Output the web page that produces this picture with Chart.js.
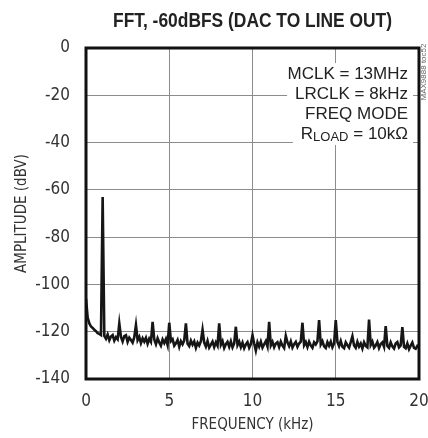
<!DOCTYPE html>
<html>
<head>
<meta charset="utf-8">
<script src="https://cdn.jsdelivr.net/npm/chart.js@4.4.1/dist/chart.umd.min.js"></script>
<style>
  html, body { margin: 0; padding: 0; background: #fff; }
  #wrap { width: 428px; height: 438px; }
</style>
</head>
<body>
<div id="wrap"><canvas id="fft" width="428" height="438"></canvas></div>
<script>
// FFT of -60dBFS tone, DAC to line out (MAX9888 toc52)

const titleText = 'FFT, -60dBFS (DAC TO LINE OUT)';
const xTitle = 'FREQUENCY (kHz)';
const yTitle = 'AMPLITUDE (dBV)';
const notes = ['MCLK = 13MHz', 'LRCLK = 8kHz', 'FREQ MODE'];
const xTicks = [0, 5, 10, 15, 20];
const yTicks = [0, -20, -40, -60, -80, -100, -120, -140];

// spectrum bins every 0.1kHz from 0 to 20kHz, dBV
const binStep = 0.1;
const amplitude = [
  -106, -114, -116.5, -117.8, -118.4, -119.2, -119.8, -120.6, -120.9, -121.4,
  -63, -121.8, -123.0, -121.2, -123.6, -122.0, -121.4, -123.8, -122.3, -123.2,
  -116.5, -122.2, -124.1, -121.9, -121.5, -124.3, -122.5, -123.5, -124.6, -122.3,
  -117.2, -123.6, -122.2, -124.8, -122.8, -124.2, -122.6, -125.1, -123.0, -124.3,
  -115.8, -123.3, -125.3, -122.8, -124.5, -125.9, -123.3, -124.8, -123.1, -125.6,
  -116.2, -124.0, -123.2, -125.9, -124.9, -123.5, -126.4, -124.0, -125.3, -123.7,
  -116.5, -125.1, -126.1, -123.8, -125.5, -124.1, -126.8, -124.6, -125.8, -124.0,
  -119.2, -124.6, -126.3, -123.9, -126.7, -125.5, -124.2, -126.5, -124.5, -125.9,
  -116.5, -125.5, -124.0, -126.9, -125.3, -124.3, -126.4, -124.1, -126.6, -125.0,
  -117.9, -125.7, -124.2, -126.5, -124.6, -127.0, -125.4, -124.4, -126.8, -125.2,
  -121.5, -125.0, -128.0, -124.5, -126.3, -124.2, -126.7, -125.3, -124.0, -126.2,
  -115.8, -125.8, -124.3, -126.6, -125.0, -124.4, -126.5, -124.2, -125.9, -126.9,
  -121.8, -124.5, -126.1, -124.1, -126.7, -125.3, -124.3, -126.4, -125.0, -124.2,
  -116.2, -125.7, -124.4, -126.5, -124.2, -125.8, -126.8, -124.5, -125.4, -124.1,
  -115.1, -125.4, -124.0, -126.2, -126.9, -124.4, -125.9, -124.2, -126.6, -125.0,
  -115.1, -124.3, -126.1, -123.9, -126.4, -127.0, -124.5, -125.7, -126.7, -124.4,
  -121.9, -125.8, -126.8, -124.3, -126.3, -125.0, -127.1, -124.5, -126.0, -126.6,
  -114.9, -125.6, -124.2, -126.7, -125.8, -124.4, -126.9, -125.2, -124.5, -126.4,
  -117.6, -126.0, -126.8, -124.5, -126.2, -127.1, -125.0, -124.4, -126.6, -125.8,
  -118.1, -126.4, -127.0, -125.0, -127.4, -125.9, -124.6, -126.8, -127.2, -126.0,
  -126.8
];

const FONT = "'DejaVu Sans Condensed', 'Liberation Sans', sans-serif";
const NOTE_FONT = "'Liberation Sans', sans-serif";
const points = amplitude.map((v, i) => ({ x: +(i * binStep).toFixed(1), y: v }));

// thick black box round the plot
const framePlugin = {
  id: 'frame',
  afterDraw(chart) {
    const { ctx, chartArea: a } = chart;
    ctx.save();
    ctx.strokeStyle = '#111';
    ctx.lineWidth = 3;
    ctx.strokeRect(a.left, a.top, a.right - a.left, a.bottom - a.top);
    ctx.restore();
  }
};

// title, condition notes and the little figure code
const textPlugin = {
  id: 'texts',
  afterDraw(chart) {
    const { ctx, chartArea: a } = chart;
    ctx.save();
    ctx.fillStyle = '#222';
    ctx.font = "bold 20px " + NOTE_FONT;
    ctx.textAlign = 'center';
    ctx.textBaseline = 'middle';
    // narrow the title like a condensed face
    const tw = ctx.measureText(titleText).width;
    const sx = 279 / tw;
    ctx.save();
    ctx.translate((a.left + a.right) / 2, 21);
    ctx.scale(sx, 1);
    ctx.fillText(titleText, 0, 0);
    ctx.restore();

    const right = 408;
    const y0 = 74, pitch = 20;
    ctx.textAlign = 'left';
    // white patch behind each line, then the text
    const drawLine = (parts, cy) => {
      let w = 0;
      parts.forEach(p => { ctx.font = p.f; w += ctx.measureText(p.t).width; });
      ctx.fillStyle = '#fff';
      ctx.fillRect(right - w - 8, cy - 11, w + 13, 22);
      let x = right - w;
      ctx.fillStyle = '#222';
      parts.forEach(p => {
        ctx.font = p.f;
        ctx.fillText(p.t, x, cy + (p.dy || 0));
        x += ctx.measureText(p.t).width;
      });
    };
    notes.forEach((t, i) => drawLine([{ t, f: "17px " + NOTE_FONT }], y0 + i * pitch));
    drawLine([
      { t: 'R', f: "17px " + NOTE_FONT },
      { t: 'LOAD', f: "13px " + NOTE_FONT, dy: 3 },
      { t: ' = 10kΩ', f: "17px " + NOTE_FONT }
    ], y0 + 3 * pitch);

    ctx.translate(424, 72);
    ctx.rotate(-Math.PI / 2);
    ctx.font = "8px " + NOTE_FONT;
    ctx.fillStyle = '#666';
    ctx.textAlign = 'center';
    ctx.fillText('MAX9888 toc52', 0, 0);
    ctx.restore();
  }
};

new Chart(document.getElementById('fft'), {
  type: 'line',
  data: {
    datasets: [{
      data: points,
      borderColor: '#161616',
      borderWidth: 2.6,
      pointRadius: 0,
      tension: 0
    }]
  },
  options: {
    responsive: false,
    animation: false,
    devicePixelRatio: 1,
    layout: { padding: { top: 48, right: 9, left: 0, bottom: 0 } },
    plugins: {
      legend: { display: false },
      tooltip: { enabled: false }
    },
    scales: {
      x: {
        type: 'linear',
        min: 0,
        max: 20,
        afterFit(s) { s.height = 59; s.paddingLeft = 0; s.paddingRight = 0; },
        afterBuildTicks(s) { s.ticks = xTicks.map(v => ({ value: v })); },
        grid: { color: '#8c8c8c', lineWidth: 1, drawTicks: false },
        border: { display: false },
        ticks: { color: '#333', padding: 12, font: { family: FONT, size: 17 } },
        title: {
          display: true, text: xTitle, color: '#333',
          font: { family: FONT, size: 15 }, padding: { top: 0, bottom: 4 }
        }
      },
      y: {
        min: -140,
        max: 0,
        afterFit(s) { s.width = 86; s.paddingTop = 0; s.paddingBottom = 0; },
        afterBuildTicks(s) { s.ticks = yTicks.map(v => ({ value: v })); },
        grid: { color: '#8c8c8c', lineWidth: 1, drawTicks: false },
        border: { display: false },
        ticks: { color: '#333', padding: 16, font: { family: FONT, size: 17 } },
        title: {
          display: true, text: yTitle, color: '#333',
          font: { family: FONT, size: 15 }, padding: { top: 13, bottom: 0 }
        }
      }
    }
  },
  plugins: [framePlugin, textPlugin]
});
</script>
</body>
</html>
